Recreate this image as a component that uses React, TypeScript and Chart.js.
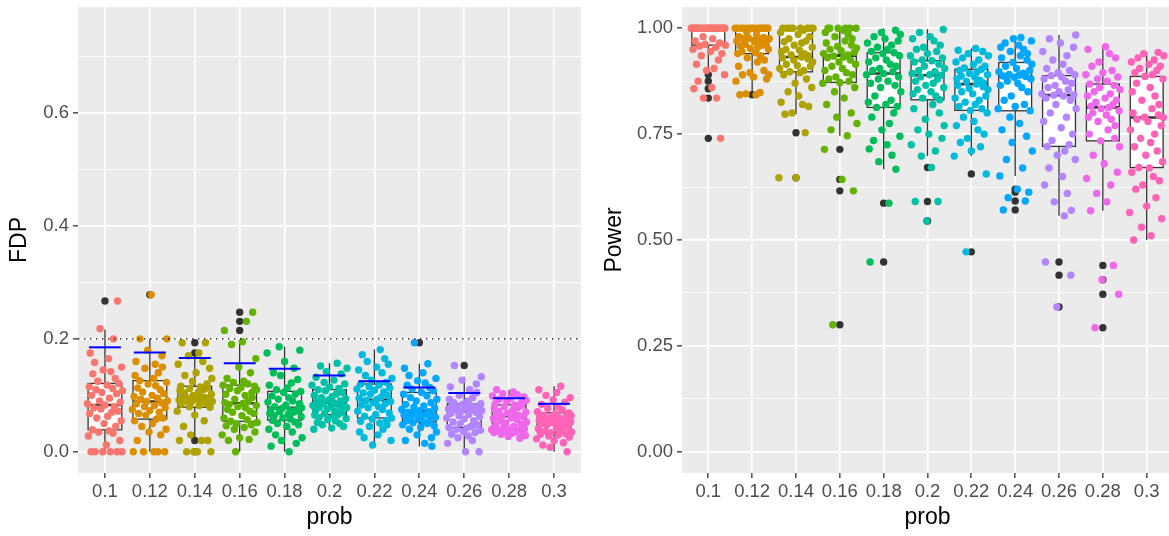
import React, { useEffect, useRef } from "react";
import { Chart, registerables } from "chart.js";

Chart.register(...registerables);
Chart.defaults.font.family = "'Liberation Sans', Arial, sans-serif";

// ---------------- data ----------------
const CATEGORIES = ["0.1", "0.12", "0.14", "0.16", "0.18", "0.2", "0.22", "0.24", "0.26", "0.28", "0.3"];
const COLORS = ["#F8766D", "#DB8E00", "#AEA200", "#64B200", "#00BD5C", "#00C1A7", "#00BADE", "#00A6FF", "#B385FF", "#EF67EB", "#FF63B6"];

// horizontal jitter offsets (category units)
const JITTER = [0.12, -0.31, 0.27, -0.05, 0.38, -0.22, 0.03, 0.33, -0.37, 0.18, -0.14, 0.09, -0.28, 0.24, -0.02, 0.36, -0.18, 0.06, -0.34, 0.15, 0.29, -0.09, -0.25, 0.21, 0.0, -0.39, 0.34, -0.12, 0.1, -0.3, 0.26, -0.07, 0.39, -0.2, 0.17, -0.35, 0.05, 0.31, -0.16, 0.23, -0.27, 0.13, -0.04, 0.37, -0.23, 0.08, -0.33, 0.19, -0.11, 0.28];

// FDP panel
const FDP_VALUES: number[][] = [
  [0, 0, 0, 0, 0, 0, 0.012, 0.02, 0.028, 0.033, 0.035, 0.037, 0.039, 0.045, 0.05, 0.055, 0.06, 0.063, 0.068, 0.07, 0.072, 0.076, 0.078, 0.08, 0.083, 0.085, 0.088, 0.09, 0.095, 0.1, 0.103, 0.105, 0.108, 0.11, 0.112, 0.115, 0.118, 0.121, 0.125, 0.13, 0.138, 0.142, 0.145, 0.15, 0.158, 0.165, 0.175, 0.2, 0.218, 0.267],
  [0, 0, 0, 0, 0, 0.02, 0.03, 0.035, 0.04, 0.045, 0.05, 0.055, 0.058, 0.06, 0.065, 0.068, 0.07, 0.073, 0.075, 0.078, 0.08, 0.082, 0.085, 0.087, 0.089, 0.09, 0.093, 0.095, 0.098, 0.1, 0.103, 0.106, 0.11, 0.113, 0.117, 0.12, 0.123, 0.126, 0.13, 0.135, 0.14, 0.148, 0.15, 0.155, 0.16, 0.17, 0.18, 0.2, 0.2, 0.278],
  [0, 0, 0, 0, 0.02, 0.02, 0.02, 0.03, 0.045, 0.055, 0.065, 0.072, 0.079, 0.08, 0.082, 0.084, 0.086, 0.088, 0.089, 0.09, 0.091, 0.092, 0.093, 0.094, 0.095, 0.096, 0.097, 0.098, 0.1, 0.102, 0.104, 0.106, 0.108, 0.11, 0.112, 0.113, 0.115, 0.116, 0.12, 0.125, 0.13, 0.135, 0.14, 0.148, 0.155, 0.16, 0.17, 0.175, 0.193, 0.193],
  [0, 0.02, 0.022, 0.025, 0.03, 0.035, 0.04, 0.043, 0.046, 0.048, 0.05, 0.052, 0.054, 0.057, 0.06, 0.064, 0.068, 0.07, 0.072, 0.075, 0.078, 0.08, 0.082, 0.084, 0.086, 0.087, 0.09, 0.093, 0.096, 0.1, 0.102, 0.105, 0.108, 0.11, 0.112, 0.114, 0.116, 0.118, 0.12, 0.123, 0.125, 0.13, 0.14, 0.15, 0.165, 0.19, 0.195, 0.215, 0.231, 0.247],
  [0, 0.01, 0.015, 0.02, 0.025, 0.03, 0.035, 0.04, 0.045, 0.048, 0.05, 0.053, 0.056, 0.058, 0.06, 0.062, 0.064, 0.066, 0.068, 0.07, 0.071, 0.072, 0.073, 0.074, 0.075, 0.077, 0.078, 0.08, 0.083, 0.085, 0.088, 0.09, 0.093, 0.096, 0.099, 0.102, 0.105, 0.107, 0.11, 0.113, 0.118, 0.122, 0.128, 0.135, 0.14, 0.148, 0.16, 0.175, 0.18, 0.186],
  [0.04, 0.042, 0.045, 0.048, 0.05, 0.052, 0.055, 0.057, 0.059, 0.061, 0.063, 0.065, 0.066, 0.068, 0.07, 0.072, 0.073, 0.075, 0.076, 0.078, 0.079, 0.08, 0.081, 0.082, 0.084, 0.086, 0.087, 0.089, 0.09, 0.092, 0.094, 0.096, 0.098, 0.1, 0.102, 0.105, 0.108, 0.11, 0.112, 0.115, 0.118, 0.12, 0.123, 0.127, 0.132, 0.138, 0.142, 0.148, 0.152, 0.157],
  [0.012, 0.02, 0.025, 0.03, 0.035, 0.04, 0.045, 0.048, 0.051, 0.054, 0.056, 0.058, 0.06, 0.063, 0.066, 0.069, 0.072, 0.075, 0.078, 0.08, 0.083, 0.085, 0.087, 0.089, 0.091, 0.093, 0.095, 0.097, 0.1, 0.102, 0.104, 0.106, 0.109, 0.111, 0.113, 0.115, 0.118, 0.12, 0.123, 0.127, 0.13, 0.135, 0.14, 0.145, 0.15, 0.155, 0.16, 0.165, 0.172, 0.181],
  [0.01, 0.015, 0.02, 0.025, 0.03, 0.035, 0.04, 0.043, 0.046, 0.048, 0.05, 0.052, 0.053, 0.055, 0.057, 0.059, 0.061, 0.063, 0.064, 0.065, 0.066, 0.068, 0.069, 0.07, 0.071, 0.073, 0.075, 0.077, 0.079, 0.081, 0.084, 0.087, 0.09, 0.093, 0.096, 0.099, 0.102, 0.105, 0.108, 0.111, 0.114, 0.118, 0.122, 0.126, 0.13, 0.135, 0.14, 0.148, 0.156, 0.193],
  [0, 0, 0.015, 0.02, 0.025, 0.028, 0.031, 0.034, 0.036, 0.038, 0.04, 0.042, 0.043, 0.045, 0.048, 0.05, 0.053, 0.055, 0.058, 0.06, 0.062, 0.064, 0.066, 0.068, 0.07, 0.072, 0.073, 0.074, 0.075, 0.076, 0.077, 0.078, 0.079, 0.08, 0.081, 0.082, 0.084, 0.085, 0.087, 0.09, 0.093, 0.096, 0.1, 0.105, 0.11, 0.115, 0.12, 0.127, 0.133, 0.153],
  [0.024, 0.027, 0.029, 0.031, 0.033, 0.034, 0.035, 0.036, 0.037, 0.038, 0.038, 0.039, 0.039, 0.041, 0.043, 0.045, 0.047, 0.049, 0.051, 0.053, 0.055, 0.057, 0.059, 0.06, 0.062, 0.063, 0.064, 0.066, 0.067, 0.069, 0.07, 0.072, 0.074, 0.076, 0.078, 0.08, 0.082, 0.083, 0.085, 0.087, 0.089, 0.091, 0.093, 0.095, 0.097, 0.099, 0.101, 0.103, 0.106, 0.11],
  [0, 0.008, 0.012, 0.016, 0.02, 0.023, 0.026, 0.028, 0.03, 0.031, 0.032, 0.034, 0.035, 0.037, 0.039, 0.041, 0.043, 0.045, 0.047, 0.048, 0.05, 0.051, 0.052, 0.053, 0.054, 0.055, 0.056, 0.057, 0.058, 0.059, 0.06, 0.061, 0.062, 0.063, 0.064, 0.065, 0.067, 0.069, 0.071, 0.074, 0.077, 0.08, 0.084, 0.088, 0.092, 0.096, 0.1, 0.105, 0.11, 0.116],
];
const FDP_Q1 = [0.039, 0.058, 0.079, 0.054, 0.056, 0.066, 0.060, 0.053, 0.043, 0.039, 0.035];
const FDP_MEDIAN = [0.083, 0.089, 0.096, 0.086, 0.078, 0.087, 0.092, 0.072, 0.0715, 0.063, 0.055];
const FDP_Q3 = [0.121, 0.126, 0.116, 0.118, 0.107, 0.110, 0.120, 0.105, 0.085, 0.083, 0.069];
const FDP_WHISKER_LOW = [0, 0, 0.025, 0, 0, 0.040, 0.012, 0.0095, 0, 0.024, 0];
const FDP_WHISKER_HIGH = [0.2165, 0.2, 0.172, 0.197, 0.186, 0.157, 0.181, 0.156, 0.133, 0.11, 0.116];
const FDP_OUTLIERS: number[][] = [[0.267], [0.278], [0, 0.02, 0.175, 0.193], [0.215, 0.231, 0.247], [], [], [], [0.193], [0.153], [], []];
const FDP_BLUE = [0.185, 0.176, 0.166, 0.157, 0.147, 0.135, 0.125, 0.114, 0.104, 0.095, 0.085];
const FDP_REFERENCE = 0.2;
const FDP_TICKS = [0, 0.1, 0.2, 0.3, 0.4, 0.5, 0.6, 0.7];
const FDP_MAJOR = [0, 0.2, 0.4, 0.6];
const FDP_LABELS = ["0.0", "0.2", "0.4", "0.6"];

// Power panel
const POWER_VALUES: number[][] = [
  [1, 1, 1, 1, 1, 1, 1, 1, 1, 1, 1, 1, 1, 1, 1, 1, 1, 1, 1, 1, 1, 1, 1, 1, 1, 1, 1, 0.98, 0.975, 0.97, 0.965, 0.962, 0.96, 0.958, 0.955, 0.95, 0.945, 0.94, 0.935, 0.925, 0.915, 0.905, 0.9, 0.89, 0.875, 0.86, 0.857, 0.835, 0.835, 0.74],
  [1, 1, 1, 1, 1, 1, 1, 1, 1, 1, 1, 1, 1, 1, 0.99, 0.985, 0.98, 0.978, 0.976, 0.975, 0.975, 0.972, 0.97, 0.968, 0.965, 0.962, 0.96, 0.958, 0.955, 0.952, 0.95, 0.945, 0.942, 0.94, 0.935, 0.93, 0.925, 0.92, 0.91, 0.9, 0.895, 0.89, 0.89, 0.885, 0.88, 0.875, 0.848, 0.845, 0.843, 0.843],
  [1, 1, 1, 1, 1, 1, 1, 1, 0.995, 0.99, 0.985, 0.98, 0.975, 0.97, 0.968, 0.965, 0.96, 0.955, 0.95, 0.948, 0.945, 0.94, 0.937, 0.935, 0.932, 0.93, 0.928, 0.925, 0.92, 0.915, 0.912, 0.91, 0.905, 0.9, 0.897, 0.895, 0.89, 0.88, 0.87, 0.86, 0.85, 0.84, 0.825, 0.82, 0.815, 0.8, 0.797, 0.753, 0.647, 0.647],
  [1, 1, 1, 1, 1, 1, 0.995, 0.99, 0.985, 0.98, 0.975, 0.97, 0.965, 0.96, 0.957, 0.953, 0.95, 0.947, 0.943, 0.94, 0.937, 0.934, 0.932, 0.93, 0.925, 0.92, 0.915, 0.91, 0.905, 0.9, 0.895, 0.89, 0.885, 0.88, 0.875, 0.872, 0.87, 0.86, 0.85, 0.835, 0.82, 0.8, 0.79, 0.775, 0.76, 0.746, 0.714, 0.643, 0.616, 0.3],
  [0.995, 0.99, 0.985, 0.98, 0.975, 0.97, 0.965, 0.96, 0.955, 0.95, 0.945, 0.942, 0.94, 0.935, 0.93, 0.925, 0.92, 0.915, 0.91, 0.905, 0.9, 0.897, 0.893, 0.89, 0.885, 0.88, 0.875, 0.87, 0.865, 0.86, 0.85, 0.84, 0.83, 0.825, 0.82, 0.815, 0.813, 0.8, 0.79, 0.775, 0.76, 0.745, 0.735, 0.725, 0.715, 0.7, 0.685, 0.667, 0.587, 0.448],
  [0.997, 0.99, 0.98, 0.975, 0.97, 0.96, 0.955, 0.95, 0.945, 0.94, 0.935, 0.93, 0.925, 0.923, 0.92, 0.915, 0.91, 0.905, 0.9, 0.897, 0.893, 0.89, 0.889, 0.885, 0.88, 0.875, 0.87, 0.865, 0.86, 0.855, 0.85, 0.845, 0.84, 0.835, 0.831, 0.82, 0.81, 0.8, 0.785, 0.77, 0.76, 0.75, 0.74, 0.725, 0.71, 0.698, 0.671, 0.591, 0.591, 0.545],
  [0.952, 0.948, 0.945, 0.94, 0.935, 0.93, 0.925, 0.92, 0.915, 0.91, 0.906, 0.903, 0.9, 0.897, 0.893, 0.89, 0.887, 0.884, 0.88, 0.877, 0.874, 0.871, 0.868, 0.865, 0.862, 0.858, 0.855, 0.85, 0.845, 0.84, 0.835, 0.83, 0.825, 0.82, 0.815, 0.81, 0.806, 0.8, 0.79, 0.78, 0.77, 0.76, 0.75, 0.74, 0.73, 0.72, 0.71, 0.698, 0.656, 0.472],
  [0.978, 0.975, 0.97, 0.965, 0.96, 0.955, 0.95, 0.945, 0.94, 0.935, 0.93, 0.925, 0.919, 0.915, 0.91, 0.905, 0.9, 0.897, 0.894, 0.891, 0.889, 0.887, 0.886, 0.884, 0.88, 0.875, 0.87, 0.865, 0.86, 0.85, 0.84, 0.83, 0.82, 0.815, 0.81, 0.805, 0.79, 0.775, 0.76, 0.745, 0.73, 0.71, 0.69, 0.67, 0.651, 0.62, 0.613, 0.6, 0.592, 0.571],
  [0.984, 0.975, 0.965, 0.955, 0.945, 0.935, 0.925, 0.915, 0.905, 0.9, 0.895, 0.89, 0.888, 0.885, 0.88, 0.875, 0.87, 0.865, 0.86, 0.855, 0.85, 0.845, 0.843, 0.842, 0.84, 0.835, 0.83, 0.82, 0.81, 0.8, 0.79, 0.78, 0.765, 0.75, 0.735, 0.725, 0.721, 0.71, 0.7, 0.69, 0.67, 0.65, 0.63, 0.61, 0.59, 0.57, 0.557, 0.448, 0.417, 0.342],
  [0.956, 0.95, 0.94, 0.93, 0.92, 0.91, 0.9, 0.895, 0.89, 0.885, 0.88, 0.875, 0.868, 0.865, 0.86, 0.855, 0.85, 0.845, 0.84, 0.835, 0.83, 0.825, 0.82, 0.816, 0.813, 0.81, 0.805, 0.8, 0.795, 0.79, 0.785, 0.78, 0.77, 0.76, 0.75, 0.74, 0.734, 0.72, 0.7, 0.68, 0.66, 0.645, 0.63, 0.61, 0.59, 0.569, 0.44, 0.406, 0.372, 0.293],
  [0.943, 0.94, 0.935, 0.93, 0.925, 0.92, 0.915, 0.91, 0.905, 0.9, 0.895, 0.89, 0.886, 0.88, 0.87, 0.86, 0.85, 0.84, 0.83, 0.82, 0.81, 0.8, 0.795, 0.79, 0.789, 0.785, 0.78, 0.77, 0.76, 0.75, 0.74, 0.73, 0.72, 0.71, 0.7, 0.685, 0.671, 0.67, 0.66, 0.65, 0.64, 0.63, 0.62, 0.6, 0.58, 0.565, 0.55, 0.53, 0.51, 0.5],
];
const POWER_Q1 = [0.96, 0.94, 0.897, 0.872, 0.813, 0.831, 0.806, 0.805, 0.721, 0.734, 0.671];
const POWER_MEDIAN = [1.0, 0.975, 0.932, 0.935, 0.893, 0.889, 0.868, 0.886, 0.842, 0.813, 0.789];
const POWER_Q3 = [1.0, 1.0, 0.999, 0.937, 0.942, 0.923, 0.903, 0.919, 0.888, 0.868, 0.886];
const POWER_WHISKER_LOW = [0.9, 0.848, 0.797, 0.746, 0.667, 0.698, 0.698, 0.651, 0.557, 0.569, 0.5];
const POWER_WHISKER_HIGH = [1.0, 1.0, 1.0, 1.0, 1.0, 0.9975, 0.952, 0.978, 0.984, 0.956, 0.943];
const POWER_OUTLIERS: number[][] = [[0.89, 0.875, 0.857, 0.835, 0.74], [0.843], [0.753, 0.647], [0.714, 0.643, 0.616, 0.3], [0.587, 0.448], [0.671, 0.591, 0.545], [0.656, 0.472], [0.62, 0.613, 0.592, 0.571], [0.448, 0.417, 0.342], [0.44, 0.406, 0.372, 0.293], []];
const POWER_TICKS = [0, 0.125, 0.25, 0.375, 0.5, 0.625, 0.75, 0.875, 1.0];
const POWER_MAJOR = [0, 0.25, 0.5, 0.75, 1.0];
const POWER_LABELS = ["0.00", "0.25", "0.50", "0.75", "1.00"];

// ---------------- styling ----------------
const PANEL_BG = "#EBEBEB";
const DARK = "#333333";
const TICK_TEXT = "#4D4D4D";
const BOX_HALF = 0.375;
const BLUE_HALF = 0.355;
const POINT_R = 3.7;

type PanelSpec = {
  values: number[][];
  q1: number[];
  med: number[];
  q3: number[];
  lo: number[];
  hi: number[];
  outliers: number[][];
  yMin: number;
  yMax: number;
  yTicks: number[];
  yMajor: number[];
  yLabels: string[];
  yTitle: string;
  reference?: number;
  blue?: number[];
  jitterShift: number;
  yAxisWidth: number;
  padRight: number;
};

function isMajor(spec: PanelSpec, v: number) {
  return spec.yMajor.findIndex((m) => Math.abs(m - v) < 1e-9);
}

function makePlugin(spec: PanelSpec) {
  return {
    id: "panelDecor",
    beforeDraw(chart: any) {
      const { ctx, chartArea: a } = chart;
      ctx.save();
      ctx.fillStyle = PANEL_BG;
      ctx.fillRect(a.left, a.top, a.right - a.left, a.bottom - a.top);
      ctx.restore();
    },
    beforeDatasetsDraw(chart: any) {
      const { ctx, chartArea: a } = chart;
      const xs = chart.scales.x;
      const ys = chart.scales.y;
      ctx.save();
      ctx.beginPath();
      ctx.rect(a.left, a.top, a.right - a.left, a.bottom - a.top);
      ctx.clip();
      ctx.strokeStyle = DARK;
      for (let g = 0; g < CATEGORIES.length; g++) {
        const cx = xs.getPixelForValue(g);
        const hw = xs.getPixelForValue(g + BOX_HALF) - cx;
        const yq1 = ys.getPixelForValue(spec.q1[g]);
        const yq3 = ys.getPixelForValue(spec.q3[g]);
        const ymed = ys.getPixelForValue(spec.med[g]);
        const ylo = ys.getPixelForValue(spec.lo[g]);
        const yhi = ys.getPixelForValue(spec.hi[g]);
        ctx.lineWidth = 1.3;
        ctx.beginPath();
        ctx.moveTo(cx, yhi);
        ctx.lineTo(cx, yq3);
        ctx.moveTo(cx, yq1);
        ctx.lineTo(cx, ylo);
        ctx.stroke();
        ctx.fillStyle = "#FFFFFF";
        ctx.fillRect(cx - hw, yq3, 2 * hw, yq1 - yq3);
        ctx.strokeRect(cx - hw, yq3, 2 * hw, yq1 - yq3);
        ctx.lineWidth = 2.6;
        ctx.beginPath();
        ctx.moveTo(cx - hw, ymed);
        ctx.lineTo(cx + hw, ymed);
        ctx.stroke();
      }
      ctx.restore();
    },
    afterDatasetsDraw(chart: any) {
      const { ctx, chartArea: a } = chart;
      const xs = chart.scales.x;
      const ys = chart.scales.y;
      ctx.save();
      if (spec.reference !== undefined) {
        const y = ys.getPixelForValue(spec.reference);
        ctx.strokeStyle = "#000000";
        ctx.lineWidth = 1.4;
        ctx.setLineDash([1.4, 4.6]);
        ctx.beginPath();
        ctx.moveTo(a.left, y);
        ctx.lineTo(a.right, y);
        ctx.stroke();
        ctx.setLineDash([]);
      }
      if (spec.blue) {
        ctx.strokeStyle = "#0000FF";
        ctx.lineWidth = 2;
        for (let g = 0; g < spec.blue.length; g++) {
          const y = ys.getPixelForValue(spec.blue[g]);
          ctx.beginPath();
          ctx.moveTo(xs.getPixelForValue(g - BLUE_HALF), y);
          ctx.lineTo(xs.getPixelForValue(g + BLUE_HALF), y);
          ctx.stroke();
        }
      }
      ctx.restore();
    },
  };
}

function makeConfig(spec: PanelSpec): any {
  const datasets: any[] = spec.values.map((arr, g) => ({
    label: CATEGORIES[g],
    data: arr.map((v, i) => ({ x: g + JITTER[(i + g * spec.jitterShift) % JITTER.length], y: v })),
    backgroundColor: COLORS[g],
    borderWidth: 0,
    pointRadius: POINT_R,
    pointHoverRadius: POINT_R,
    order: 0,
  }));
  datasets.push({
    label: "outliers",
    data: spec.outliers.flatMap((arr, g) => arr.map((v) => ({ x: g, y: v }))),
    backgroundColor: DARK,
    borderWidth: 0,
    pointRadius: POINT_R,
    pointHoverRadius: POINT_R,
    order: 1,
  });
  return {
    type: "scatter",
    data: { datasets },
    plugins: [makePlugin(spec)],
    options: {
      animation: false,
      responsive: false,
      devicePixelRatio: 1,
      events: [],
      layout: { padding: { left: 0, top: 7, right: spec.padRight, bottom: 0 } },
      plugins: { legend: { display: false }, tooltip: { enabled: false } },
      scales: {
        x: {
          type: "linear",
          min: -0.6,
          max: CATEGORIES.length - 1 + 0.6,
          afterBuildTicks: (s: any) => {
            s.ticks = CATEGORIES.map((_, i) => ({ value: i }));
          },
          afterFit: (s: any) => {
            s.height = 63;
            s.paddingLeft = 0;
            s.paddingRight = 0;
            s.paddingTop = 0;
            s.paddingBottom = 0;
          },
          ticks: {
            autoSkip: false,
            maxRotation: 0,
            minRotation: 0,
            padding: 3,
            color: TICK_TEXT,
            font: { size: 18.5 },
            callback: (_v: any, i: number) => CATEGORIES[i],
          },
          grid: {
            color: "#FFFFFF",
            lineWidth: 1.7,
            tickColor: DARK,
            tickLength: 5,
            tickWidth: 1.3,
          },
          border: { display: false },
          title: {
            display: true,
            text: "prob",
            color: "#000000",
            font: { size: 23 },
            padding: { top: 0, bottom: 5 },
          },
        },
        y: {
          type: "linear",
          min: spec.yMin,
          max: spec.yMax,
          afterBuildTicks: (s: any) => {
            s.ticks = spec.yTicks.map((v) => ({ value: v }));
          },
          afterFit: (s: any) => {
            s.width = spec.yAxisWidth;
            s.paddingTop = 0;
            s.paddingBottom = 0;
            s.paddingLeft = 0;
            s.paddingRight = 0;
          },
          ticks: {
            autoSkip: false,
            padding: 4,
            color: TICK_TEXT,
            font: { size: 18.5 },
            callback: (v: any) => {
              const k = isMajor(spec, Number(v));
              return k >= 0 ? spec.yLabels[k] : "";
            },
          },
          grid: {
            color: "#FFFFFF",
            lineWidth: (c: any) => (c.tick && isMajor(spec, c.tick.value) >= 0 ? 1.7 : 0.9),
            tickColor: (c: any) => (c.tick && isMajor(spec, c.tick.value) >= 0 ? DARK : "rgba(0,0,0,0)"),
            tickLength: 5,
            tickWidth: 1.3,
          },
          border: { display: false },
          title: {
            display: true,
            text: spec.yTitle,
            color: "#000000",
            font: { size: 23 },
            padding: { top: 6, bottom: 0 },
          },
        },
      },
    },
  };
}

const FDP_SPEC: PanelSpec = {
  values: FDP_VALUES,
  q1: FDP_Q1,
  med: FDP_MEDIAN,
  q3: FDP_Q3,
  lo: FDP_WHISKER_LOW,
  hi: FDP_WHISKER_HIGH,
  outliers: FDP_OUTLIERS,
  yMin: -0.0375,
  yMax: 0.7875,
  yTicks: FDP_TICKS,
  yMajor: FDP_MAJOR,
  yLabels: FDP_LABELS,
  yTitle: "FDP",
  reference: FDP_REFERENCE,
  blue: FDP_BLUE,
  jitterShift: 7,
  yAxisWidth: 78,
  padRight: 14,
};

const POWER_SPEC: PanelSpec = {
  values: POWER_VALUES,
  q1: POWER_Q1,
  med: POWER_MEDIAN,
  q3: POWER_Q3,
  lo: POWER_WHISKER_LOW,
  hi: POWER_WHISKER_HIGH,
  outliers: POWER_OUTLIERS,
  yMin: -0.05,
  yMax: 1.05,
  yTicks: POWER_TICKS,
  yMajor: POWER_MAJOR,
  yLabels: POWER_LABELS,
  yTitle: "Power",
  jitterShift: 13,
  yAxisWidth: 87,
  padRight: 12,
};

function Panel({ spec, left, width }: { spec: PanelSpec; left: number; width: number }) {
  const ref = useRef<HTMLCanvasElement | null>(null);
  useEffect(() => {
    if (!ref.current) return;
    const chart = new Chart(ref.current, makeConfig(spec));
    return () => chart.destroy();
  }, [spec]);
  return (
    <canvas
      ref={ref}
      width={width}
      height={536}
      style={{ position: "absolute", left, top: 0, width, height: 536, display: "block" }}
    />
  );
}

export default function App() {
  return (
    <div
      style={{
        position: "absolute",
        left: 0,
        top: 0,
        width: 1169,
        height: 536,
        overflow: "hidden",
        background: "#FFFFFF",
      }}
    >
      <Panel spec={FDP_SPEC} left={0} width={595} />
      <Panel spec={POWER_SPEC} left={595} width={590} />
    </div>
  );
}
